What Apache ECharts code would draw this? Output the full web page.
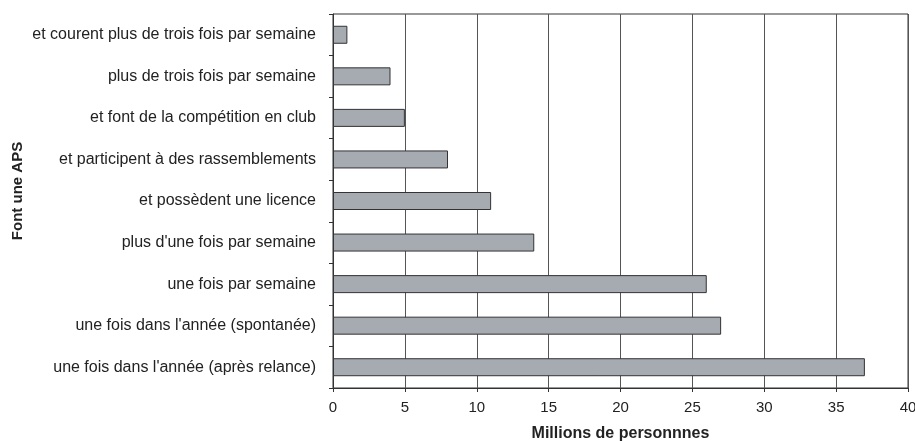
<!DOCTYPE html>
<html><head><meta charset="utf-8">
<script src="https://cdn.jsdelivr.net/npm/echarts@6/dist/echarts.min.js"></script>
<style>html,body{margin:0;padding:0;background:#fff}#c{width:915px;height:441px}</style>
</head><body><div id="c"></div>
<script>
const categories = [
  "et courent plus de trois fois par semaine",
  "plus de trois fois par semaine",
  "et font de la compétition en club",
  "et participent à des rassemblements",
  "et possèdent une licence",
  "plus d'une fois par semaine",
  "une fois par semaine",
  "une fois dans l'année (spontanée)",
  "une fois dans l'année (après relance)"
];
const values = [1, 4, 5, 8, 11, 14, 26, 27, 37];
const xTicks = [0, 5, 10, 15, 20, 25, 30, 35, 40];
const yAxisTitle = "Font une APS";
const xAxisTitle = "Millions de personnnes";

const chart = echarts.init(document.getElementById('c'));
chart.setOption({
  animation: false,
  textStyle: {fontFamily: 'Liberation Sans, Arial, sans-serif'},
  grid: {left: 333, right: 7, top: 14, bottom: 53, show: true, borderColor: '#333', borderWidth: 1,
    containLabel: false, outerBoundsMode: 'none'},
  graphic: [{
    type: 'text', x: 18, y: 191, rotation: Math.PI / 2,
    style: {text: yAxisTitle, font: 'bold 15px "Liberation Sans", Arial, sans-serif',
      fill: '#222', align: 'center', verticalAlign: 'middle'}
  }],
  xAxis: {
    type: 'value', min: xTicks[0], max: xTicks[xTicks.length-1], interval: 5,
    name: xAxisTitle, nameLocation: 'middle', nameGap: 38,
    nameTextStyle: {fontWeight: 'bold', fontSize: 16, color: '#222'},
    axisLine: {show: true, lineStyle: {color: '#333'}},
    axisTick: {show: true, length: 4, lineStyle: {color: '#333'}},
    axisLabel: {fontSize: 15, color: '#222', margin: 12},
    splitLine: {show: true, lineStyle: {color: '#555', width: 1}}
  },
  yAxis: {
    type: 'category', data: categories, inverse: true,
    axisLine: {show: true, lineStyle: {color: '#333'}},
    axisTick: {show: true, length: 4, inside: false, lineStyle: {color: '#333'}},
    axisLabel: {fontSize: 16, color: '#222', margin: 17}
  },
  series: [{
    type: 'bar', data: values, barWidth: 18,
    itemStyle: {color: '#a6aab1', borderColor: '#333', borderWidth: 1}
  }]
});
</script></body></html>
